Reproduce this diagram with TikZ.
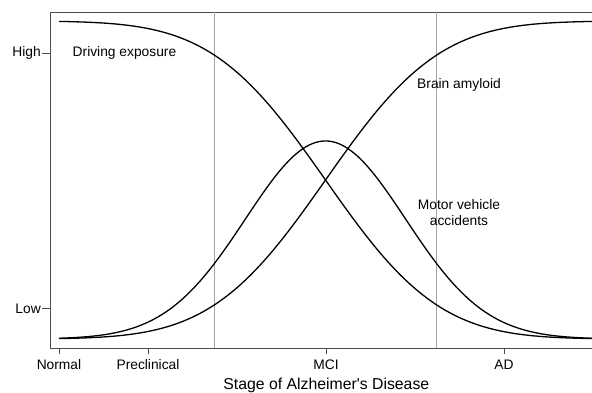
\documentclass[tikz,border=0pt]{standalone}
\usepackage{fontspec}
\setmainfont{Liberation Sans}
\newfontfamily\plainfont{Liberation Sans}
\begin{document}
\begin{tikzpicture}[x=1pt,y=-1pt,
  frame/.style={draw=black!70,line width=1pt},
  guide/.style={draw=black!35,line width=0.9pt},
  curve/.style={draw=black,line width=1.3pt,line join=round},
  lbl/.style={font=\fontsize{13.8}{15.5}\selectfont,inner sep=0pt},
  ttl/.style={font=\plainfont\fontsize{15.8}{18}\selectfont,inner sep=0pt},
  declare function={Phi(\z)=1/(1+exp(-(1.5976*\z+0.07056*\z*\z*\z)));}]
\useasboundingbox (0,0) rectangle (592,392);
% frame
\coordinate (tl) at (50,12);
\coordinate (tr) at (592,12);
\coordinate (bl) at (50,348);
\coordinate (br) at (592,348);
\draw[frame] (tr) -- (tl) -- (bl) -- (br);
% stage guides
\coordinate (g1t) at (214,12);
\coordinate (g1b) at (214,348);
\coordinate (g2t) at (436.7,12);
\coordinate (g2b) at (436.7,348);
\draw[guide] (g1t) -- (g1b);
\draw[guide] (g2t) -- (g2b);
% y ticks
\coordinate (hi0) at (42,53);
\coordinate (hi1) at (50,53);
\coordinate (lo0) at (42,308.5);
\coordinate (lo1) at (50,308.5);
\draw[frame] (hi0) -- (hi1);
\draw[frame] (lo0) -- (lo1);
\node[lbl,anchor=east] (high) at (41,53) {High};
\node[lbl,anchor=east] (low) at (41,308.5) {Low};
% x ticks
\foreach \n/\xx in {t1/59,t2/148,t3/326,t4/504}{
  \coordinate (\n a) at (\xx,348);
  \coordinate (\n b) at (\xx,354);
  \draw[frame] (\n a) -- (\n b);
}
\node[lbl] (normal) at (59,365) {Normal};
\node[lbl] (precl) at (148,365) {Preclinical};
\node[lbl] (mci) at (326,365) {MCI};
\node[lbl] (ad) at (504,365) {AD};
\node[ttl] (title) at (326.3,385) {Stage of Alzheimer's Disease};
% curves
\draw[curve] plot[domain=59:592,samples=220,smooth] (\x,{21+318*Phi((\x-325.5)/89.5)});
\draw[curve] plot[domain=59:592,samples=220,smooth] (\x,{339-318*Phi((\x-325.5)/89.5)});
\draw[curve] plot[domain=59:592,samples=220,smooth] (\x,{339-198*exp(-((\x-325.5)/80)^2/2)});
% labels
\node[lbl,anchor=west] (drive) at (72.5,53) {Driving exposure};
\node[lbl,anchor=west] (amyl) at (417,85) {Brain amyloid};
\node[lbl,align=center] (mva) at (459,212.5) {Motor vehicle\\accidents};
\end{tikzpicture}
\end{document}
